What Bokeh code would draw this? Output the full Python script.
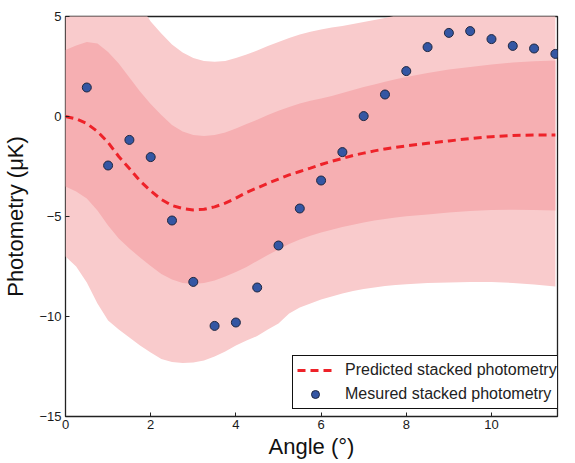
from bokeh.plotting import figure
from bokeh.models import (Range1d, FixedTicker, CustomJSTickFormatter,
                          Legend, LegendItem, ColumnDataSource)
from bokeh.embed import file_html
from bokeh.resources import INLINE

# ---- data ----
x_curve = [0, 0.25, 0.5, 0.75, 1.0, 1.25, 1.5, 1.75, 2.0, 2.25, 2.5, 2.75, 3.0, 3.25, 3.5,
           3.75, 4.0, 4.25, 4.5, 4.75, 5.0, 5.25, 5.5, 5.75, 6.0, 6.25, 6.5, 6.75, 7.0,
           7.25, 7.5, 7.75, 8.0, 8.5, 9.0, 9.5, 10.0, 10.5, 11.0, 11.5]
predicted = [0.0, -0.12, -0.35, -0.75, -1.3, -2.0, -2.6, -3.22, -3.72, -4.15, -4.45, -4.6,
             -4.67, -4.64, -4.52, -4.33, -4.08, -3.8, -3.57, -3.34, -3.13, -2.92, -2.75,
             -2.58, -2.4, -2.24, -2.1, -1.95, -1.83, -1.72, -1.62, -1.54, -1.47, -1.34,
             -1.22, -1.1, -1.01, -0.95, -0.93, -0.93]
inner_upper = [3.33, 3.55, 3.72, 3.65, 3.22, 2.65, 1.95, 1.25, 0.62, 0.08, -0.42, -0.75,
               -0.93, -0.98, -0.93, -0.8, -0.6, -0.38, -0.16, 0.07, 0.29, 0.47, 0.65, 0.79,
               0.9, 1.03, 1.18, 1.33, 1.47, 1.6, 1.74, 1.86, 1.98, 2.18, 2.35, 2.48, 2.6,
               2.7, 2.76, 2.8]
inner_lower = [-3.5, -3.75, -4.1, -4.7, -5.45, -6.1, -6.6, -7.05, -7.48, -7.88, -8.15, -8.32,
               -8.38, -8.33, -8.2, -8.0, -7.78, -7.52, -7.22, -6.92, -6.65, -6.38, -6.15,
               -5.96, -5.8, -5.66, -5.53, -5.41, -5.3, -5.2, -5.12, -5.05, -4.99, -4.9,
               -4.8, -4.72, -4.68, -4.66, -4.67, -4.7]
outer_upper = [6.7, 7.2, 7.6, 7.8, 7.6, 7.1, 6.4, 5.6, 4.75, 4.15, 3.6, 3.2, 2.92, 2.78,
               2.74, 2.78, 2.92, 3.1, 3.3, 3.52, 3.72, 3.92, 4.1, 4.24, 4.35, 4.45, 4.53,
               4.62, 4.72, 4.82, 4.93, 5.05, 5.17, 5.4, 5.6, 5.78, 5.92, 6.05, 6.15, 6.2]
outer_lower = [-7.0, -7.5, -8.3, -9.35, -10.2, -10.65, -11.05, -11.45, -11.8, -12.12, -12.28,
               -12.33, -12.3, -12.2, -12.0, -11.75, -11.45, -11.2, -10.98, -10.65, -10.35,
               -9.85, -9.55, -9.35, -9.15, -9.0, -8.85, -8.72, -8.62, -8.55, -8.48, -8.43,
               -8.39, -8.33, -8.3, -8.28, -8.28, -8.32, -8.4, -8.5]

x_meas = [0.5, 1.0, 1.5, 2.0, 2.5, 3.0, 3.5, 4.0, 4.5, 5.0, 5.5, 6.0, 6.5, 7.0, 7.5, 8.0,
          8.5, 9.0, 9.5, 10.0, 10.5, 11.0, 11.5]
y_meas = [1.45, -2.45, -1.17, -2.03, -5.2, -8.27, -10.47, -10.3, -8.55, -6.45, -4.6, -3.2,
          -1.78, 0.02, 1.1, 2.27, 3.47, 4.18, 4.27, 3.87, 3.53, 3.4, 3.13]

x_ticks = [0, 2, 4, 6, 8, 10]
y_ticks = [-15, -10, -5, 0, 5]

FONT = "Liberation Sans"

p = figure(width=559, height=461, output_backend="svg", toolbar_location=None,
           x_range=Range1d(0, 11.55), y_range=Range1d(-15, 5),
           min_border_left=58, min_border_top=16, min_border_right=2, min_border_bottom=30)
p.background_fill_color = "white"
p.border_fill_color = "white"
p.outline_line_color = "#222222"
p.outline_line_width = 1.3
p.xgrid.visible = False
p.ygrid.visible = False

curves = ColumnDataSource(dict(x=x_curve, pred=predicted, iu=inner_upper, il=inner_lower,
                               ou=outer_upper, ol=outer_lower))
p.varea(x="x", y1="ol", y2="ou", source=curves, fill_color="#f9cbcc", fill_alpha=1.0)
p.varea(x="x", y1="il", y2="iu", source=curves, fill_color="#f6afb2", fill_alpha=1.0)
r_line = p.line(x="x", y="pred", source=curves, line_color="#ee2229", line_width=3,
                line_dash="8 5")
r_pts = p.scatter(x=x_meas, y=y_meas, size=9, fill_color="#3456a3",
                  line_color="#1e2740", line_width=1)

fmt = CustomJSTickFormatter(code="return tick < 0 ? '\\u2212' + Math.abs(tick) : tick.toString();")

def style_axis(ax):
    ax.axis_line_color = None
    ax.major_tick_in = 4
    ax.major_tick_out = 0
    ax.major_tick_line_color = "#222222"
    ax.major_tick_line_width = 1
    ax.minor_tick_line_color = None
    ax.major_label_text_font = FONT
    ax.major_label_text_color = "#1a1a1a"
    ax.major_label_text_font_size = "13px"

xa = p.xaxis[0]
ya = p.yaxis[0]
xa.ticker = FixedTicker(ticks=x_ticks)
ya.ticker = FixedTicker(ticks=y_ticks)
xa.formatter = fmt
ya.formatter = fmt
style_axis(xa)
style_axis(ya)
xa.major_label_standoff = 3
ya.major_label_standoff = 4
xa.axis_label = "Angle (°)"
ya.axis_label = "Photometry (μK)"
for ax in (xa, ya):
    ax.axis_label_text_font = FONT
    ax.axis_label_text_font_size = "22px"
    ax.axis_label_text_font_style = "normal"
    ax.axis_label_text_color = "#111111"
xa.axis_label_standoff = 2
ya.axis_label_standoff = 8

legend = Legend(items=[LegendItem(label="Predicted stacked photometry", renderers=[r_line]),
                       LegendItem(label="Mesured stacked photometry", renderers=[r_pts])],
                location=(227, 7))
legend.margin = 0
legend.padding = 4
legend.spacing = 4
legend.glyph_width = 36
legend.glyph_height = 20
legend.label_height = 20
legend.label_standoff = 12
legend.label_text_font = FONT
legend.label_text_font_size = "16px"
legend.label_text_color = "#222222"
legend.border_line_color = "#111111"
legend.border_line_width = 1
legend.border_line_alpha = 1
legend.background_fill_color = "white"
legend.background_fill_alpha = 1
p.add_layout(legend, "center")

open("out.html", "w").write(file_html(p, INLINE))
